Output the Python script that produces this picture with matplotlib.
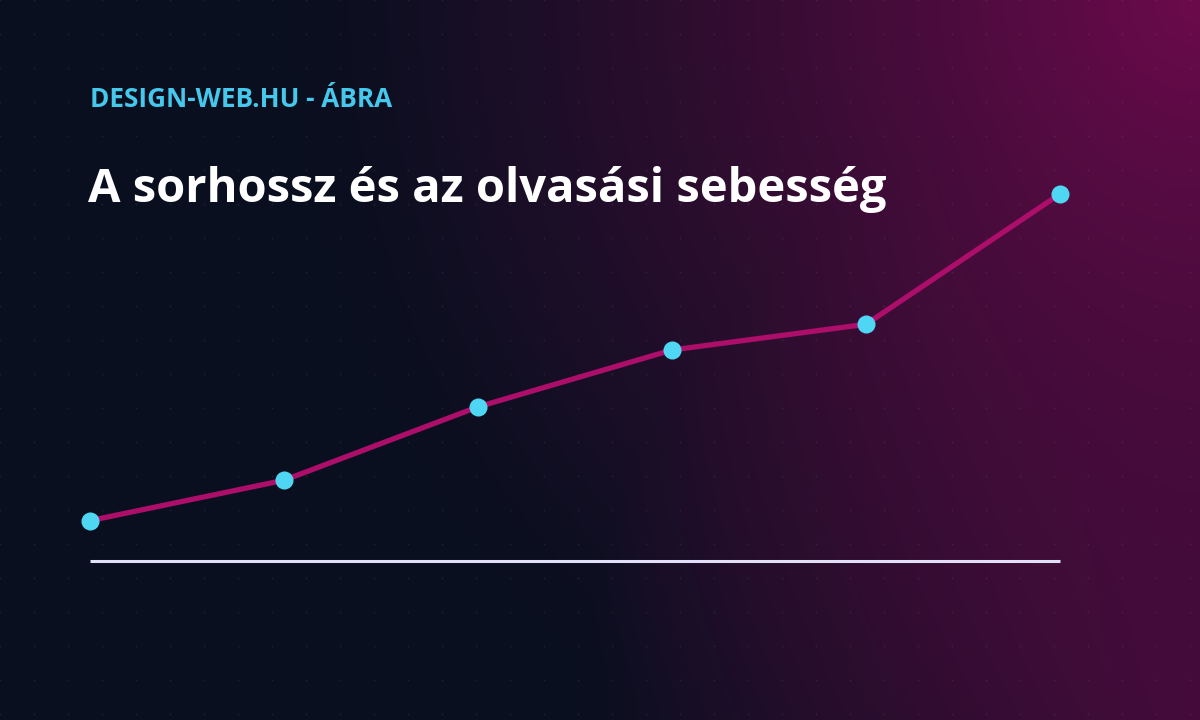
import numpy as np
import matplotlib
matplotlib.use("Agg")
from matplotlib import pyplot as plt
from matplotlib.colors import to_rgb

# data (relative reading speed vs line length step)
steps = [0, 1, 2, 3, 4, 5]
speed = [11, 22, 42, 57.5, 64.5, 100]

kicker = "DESIGN-WEB.HU - ÁBRA"
title = "A sorhossz és az olvasási sebesség"

W, H = 1200, 720
fig = plt.figure(figsize=(W / 100, H / 100), dpi=100)

# background: navy base with magenta glows on the right
yy, xx = np.mgrid[0:H, 0:W].astype(float)
navy = np.array(to_rgb("#0a0f1f"))
purple = np.array(to_rgb("#3e0c38"))
magenta = np.array(to_rgb("#6c0a4c"))

d1 = np.hypot(xx - W, yy)
w1 = np.clip(1 - d1 / 900, 0, 1) ** 1.2
d2 = np.hypot(xx - W, yy - H)
w2 = np.clip(1 - d2 / 620, 0, 1) ** 0.9

img = navy[None, None, :] * np.ones((H, W, 1))
img = img + (purple - img) * w2[..., None]
img = img + (magenta - img) * w1[..., None]

bg = fig.add_axes([0, 0, 1, 1])
bg.imshow(img, extent=[0, W, H, 0], aspect="auto", interpolation="bilinear")
# faint dot grid
gx, gy = np.meshgrid(np.arange(0, W + 1, 34), np.arange(0, H + 1, 34))
bg.scatter(gx.ravel(), gy.ravel(), s=3, marker="+", color="white", alpha=0.07, lw=0.6)
bg.set_xlim(0, W)
bg.set_ylim(H, 0)
bg.axis("off")

# chart area
left, right, bottom_px, top_px = 90, 1060, 561, 194
ax = fig.add_axes([left / W, (H - bottom_px) / H, (right - left) / W, (bottom_px - top_px) / H])
ax.patch.set_alpha(0)
ax.plot(steps, speed, color="#ac0e6a", lw=3.8, solid_capstyle="round", clip_on=False, zorder=2)
ax.plot(steps, speed, "o", color="#4fd6f3", ms=13, mec="none", clip_on=False, zorder=3)
ax.axhline(0, color="#e2e0f8", lw=2.2, clip_on=False, solid_capstyle="butt", zorder=1)
ax.set_xlim(0, 5)
ax.set_ylim(0, 100)
ax.axis("off")

fig.text(left / W, 1 - 107 / H, kicker, color="#45c8ec", fontsize=18.8,
         fontfamily="Open Sans", fontweight="bold", va="baseline", ha="left")
fig.text(left / W - 0.002, 1 - 202 / H, title, color="white", fontsize=33.9,
         fontfamily="Open Sans", fontweight="bold", va="baseline", ha="left")

fig.savefig("out.png", dpi=100)
